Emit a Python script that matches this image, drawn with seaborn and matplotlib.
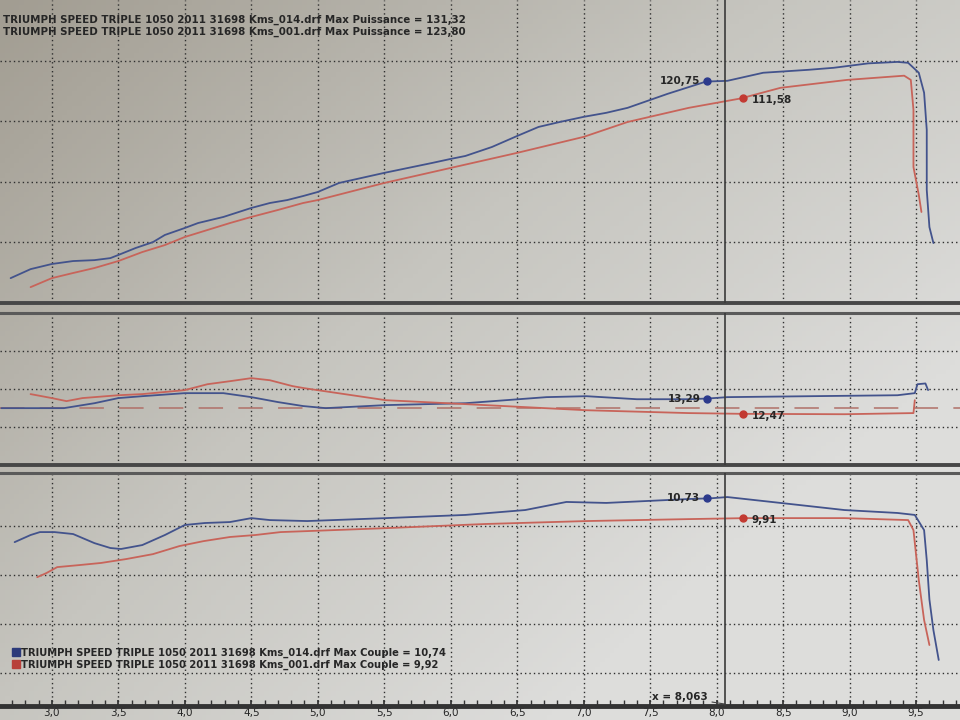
import numpy as np
import matplotlib
matplotlib.use("Agg")
import matplotlib.pyplot as plt
from matplotlib.colors import LinearSegmentedColormap
from matplotlib.lines import Line2D
from matplotlib.ticker import MultipleLocator, FuncFormatter
import pandas as pd
import seaborn as sns

# ## data (rpm x 1000) ================================================================
run_names = ['Kms_014', 'Kms_001']

# puissance
rpm_p_014 = [2.69, 2.84, 3.00, 3.16, 3.32, 3.44, 3.50, 3.63, 3.76, 3.85, 4.00, 4.10, 4.29,
             4.50, 4.64, 4.77, 4.89, 5.00, 5.16, 5.50, 5.86, 6.00, 6.11, 6.31, 6.50, 6.66,
             6.82, 7.00, 7.17, 7.33, 7.63, 7.92, 8.08, 8.35, 8.69, 8.88, 9.14, 9.36, 9.44,
             9.52, 9.56, 9.58, 9.58, 9.60, 9.63]
pw_014 = [13.6, 18.5, 21.3, 22.9, 23.4, 24.5, 26.2, 30.0, 33.2, 37.1, 40.9, 43.6, 46.9,
          51.8, 54.5, 56.1, 58.3, 60.5, 65.4, 70.9, 76.3, 78.5, 80.1, 85.0, 91.0, 95.9,
          98.6, 101.4, 103.6, 106.3, 113.9, 120.6, 121.0, 125.4, 127.0, 128.1, 130.5, 131.3, 130.8,
          125.4, 114.5, 94.3, 61.6, 41.4, 32.7]
rpm_p_001 = [2.84, 3.00, 3.16, 3.32, 3.50, 3.68, 3.85, 4.00, 4.17, 4.34, 4.50, 4.70, 4.89,
             5.00, 5.50, 6.00, 6.50, 7.00, 7.33, 7.79, 8.18, 8.48, 8.98, 9.41, 9.46, 9.48,
             9.48, 9.52, 9.54]
pw_001 = [8.7, 13.6, 16.4, 19.1, 22.9, 27.8, 31.6, 36.0, 39.8, 43.6, 46.9, 50.7, 54.5,
          56.1, 65.4, 73.6, 81.8, 90.5, 98.6, 106.3, 111.4, 117.2, 121.5, 123.8, 121.5, 105.2,
          74.1, 58.9, 49.6]

# richesse
rpm_a_014 = [2.62, 3.09, 3.32, 3.50, 3.68, 4.00, 4.29, 4.50, 4.70, 4.89, 5.06, 5.51, 6.11,
             6.72, 7.02, 7.40, 7.79, 7.94, 8.08, 8.71, 9.36, 9.49, 9.51, 9.57, 9.59]
afr_014 = [12.8, 12.8, 13.06, 13.33, 13.43, 13.59, 13.59, 13.38, 13.12, 12.91, 12.8, 12.96, 13.06,
           13.38, 13.43, 13.27, 13.27, 13.31, 13.38, 13.43, 13.48, 13.59, 14.06, 14.1, 13.75]
rpm_a_001 = [2.84, 3.00, 3.11, 3.23, 3.50, 3.68, 4.00, 4.17, 4.34, 4.50, 4.64, 4.81, 4.90,
             5.51, 6.26, 7.02, 7.79, 8.20, 8.96, 9.48, 9.49]
afr_001 = [13.54, 13.33, 13.17, 13.33, 13.48, 13.54, 13.75, 14.06, 14.22, 14.38, 14.27, 13.96, 13.85,
           13.22, 12.96, 12.69, 12.54, 12.50, 12.48, 12.54, 13.22]
afr_ref = 12.8

# couple
rpm_c_014 = [2.72, 2.84, 2.91, 3.02, 3.16, 3.32, 3.44, 3.52, 3.68, 3.85, 4.00, 4.15, 4.34,
             4.50, 4.64, 4.92, 5.51, 6.11, 6.56, 6.87, 7.17, 7.48, 7.79, 7.96, 8.08, 8.48,
             8.96, 9.36, 9.49, 9.56, 9.58, 9.60, 9.63, 9.67]
cpl_014 = [8.94, 9.23, 9.35, 9.35, 9.27, 8.90, 8.70, 8.66, 8.82, 9.23, 9.64, 9.72, 9.76,
           9.92, 9.84, 9.80, 9.92, 10.05, 10.25, 10.58, 10.54, 10.62, 10.70, 10.73, 10.78, 10.54,
           10.25, 10.13, 10.05, 9.43, 8.2, 6.6, 5.35, 4.13]
rpm_c_001 = [2.89, 2.96, 3.04, 3.20, 3.37, 3.56, 3.76, 3.96, 4.14, 4.34, 4.53, 4.72, 4.92,
             5.51, 6.26, 7.02, 7.79, 8.22, 8.96, 9.44, 9.48, 9.52, 9.56, 9.60]
cpl_001 = [7.51, 7.68, 7.92, 8.00, 8.09, 8.25, 8.45, 8.78, 8.98, 9.15, 9.23, 9.35, 9.39,
           9.51, 9.68, 9.80, 9.88, 9.92, 9.92, 9.84, 9.43, 7.39, 5.76, 4.74]

# cursor readout
cursor_rpm = 8.063
cursor_014 = [120.75, 13.29, 10.73]
cursor_001 = [111.58, 12.47, 9.91]
max_puissance = [131.32, 123.80]
max_couple = [10.74, 9.92]

xticks = np.arange(3.0, 10.0, 0.5)


def fr(v, n=2):
    return f"{v:.{n}f}".replace('.', ',')


def long_df(xa, ya, xb, yb):
    return pd.concat([pd.DataFrame({'rpm': xa, 'val': ya, 'run': run_names[0]}),
                      pd.DataFrame({'rpm': xb, 'val': yb, 'run': run_names[1]})],
                     ignore_index=True)


# ## style =============================================================================
sns.set_theme(style='white')
plt.rcParams['font.family'] = ['DejaVu Sans']
blue = '#43538c'
red = '#c8645a'
palette = {run_names[0]: blue, run_names[1]: red}
ink = '#262626'

fig = plt.figure(figsize=(9.6, 7.2), dpi=100)

# photo-like paper background
bg = fig.add_axes([0, 0, 1, 1], zorder=-10)
gx, gy = np.meshgrid(np.linspace(0, 1, 200), np.linspace(0, 1, 150))
paper = np.clip(0.55 * gx + 0.45 * gy + 0.2 * gx * gy + 0.12, 0, 1)
cmap = LinearSegmentedColormap.from_list('paper', ['#a29d92', '#c6c5bf', '#dddddb'])
bg.imshow(paper, cmap=cmap, aspect='auto', extent=(0, 1, 0, 1), origin='upper')
bg.axis('off')

ax_p = fig.add_axes([0, 0.579, 1, 0.421])
ax_a = fig.add_axes([0, 0.354, 1, 0.211])
ax_c = fig.add_axes([0, 0.0194, 1, 0.3236])

panels = [
    (ax_p, long_df(rpm_p_014, pw_014, rpm_p_001, pw_001), (0, 165), [33, 66, 99, 132]),
    (ax_a, long_df(rpm_a_014, afr_014, rpm_a_001, afr_001), (9.8, 17.8), [11.8, 13.8, 15.8]),
    (ax_c, long_df(rpm_c_014, cpl_014, rpm_c_001, cpl_001), (2.25, 11.76), [3.6, 5.6, 7.6, 9.6]),
]

for i, (ax, df, ylim, yt) in enumerate(panels):
    ax.set_facecolor('none')
    if ax is ax_a:
        ax.axhline(afr_ref, color='#b07068', lw=1.1, dashes=(16, 10), zorder=2)
    sns.lineplot(data=df, x='rpm', y='val', hue='run', palette=palette, sort=False,
                 estimator=None, lw=1.3, legend=False, ax=ax, zorder=3)
    ax.set_xlim(2.61, 9.83)
    ax.set_ylim(*ylim)
    ax.set_xticks(xticks)
    ax.set_yticks(yt)
    ax.grid(True, color='#2e2e2e', lw=1.0, linestyle=(0, (1, 2.2)), zorder=1)
    ax.set_xlabel('')
    ax.set_ylabel('')
    ax.tick_params(axis='y', left=False, labelleft=False)
    for s in ['left', 'right']:
        ax.spines[s].set_visible(False)
    ax.spines['top'].set_color('#5a5a5a')
    ax.spines['top'].set_linewidth(2.2)
    ax.spines['bottom'].set_color('#474747')
    ax.spines['bottom'].set_linewidth(2.8)

    ax.axvline(cursor_rpm, color='#3a3a3a', lw=1.2, zorder=4)
    ax.plot(7.93, cursor_014[i], 'o', color='#2c3a8c', ms=5, zorder=5)
    ax.plot(8.20, cursor_001[i], 'o', color='#c23a32', ms=5, zorder=5)
    ax.annotate(fr(cursor_014[i]), (7.93, cursor_014[i]), xytext=(-5, 0),
                textcoords='offset points', ha='right', va='center',
                fontsize=7.5, weight='bold', color=ink, zorder=6)
    ax.annotate(fr(cursor_001[i]), (8.20, cursor_001[i]), xytext=(6, -1),
                textcoords='offset points', ha='left', va='center',
                fontsize=7.5, weight='bold', color=ink, zorder=6)

ax_p.spines['top'].set_visible(False)
for ax in [ax_p, ax_a]:
    ax.tick_params(axis='x', bottom=False, labelbottom=False)

ax_c.xaxis.set_minor_locator(MultipleLocator(0.1))
ax_c.xaxis.set_major_formatter(FuncFormatter(lambda v, p: fr(v, 1)))
ax_c.tick_params(axis='x', which='both', direction='in', bottom=True, length=4,
                 color='#333333', labelsize=7.5, pad=1.5, labelcolor=ink)
ax_c.spines['bottom'].set_linewidth(3.5)
ax_c.spines['bottom'].set_color('#333333')

ax_c.annotate('x = ' + fr(cursor_rpm, 3), xy=(cursor_rpm, 2.33), xytext=(7.72, 2.62),
              ha='center', va='center', fontsize=7.5, weight='bold', color=ink,
              arrowprops=dict(arrowstyle='-', color='#444444', lw=0.8, shrinkA=1, shrinkB=0))

# legends ================================================================================
title = 'TRIUMPH SPEED TRIPLE 1050 2011 31698 '
fig.text(3 / 960, 1 - 20 / 720, f'{title}{run_names[0]}.drf Max Puissance = {fr(max_puissance[0])}',
         ha='left', va='center', fontsize=7.4, weight='bold', color=ink)
fig.text(3 / 960, 1 - 32 / 720, f'{title}{run_names[1]}.drf Max Puissance = {fr(max_puissance[1])}',
         ha='left', va='center', fontsize=7.4, weight='bold', color=ink)

handles = [Line2D([], [], marker='s', ls='', color=c, ms=6) for c in ['#2c3a7a', '#b8403a']]
labels = [f'{title}{run_names[k]}.drf Max Couple = {fr(max_couple[k])}' for k in range(2)]
leg = ax_c.legend(handles, labels, loc='upper left', bbox_to_anchor=(0.012, 0.25),
                  frameon=False, borderpad=0, borderaxespad=0, handletextpad=0.15,
                  handlelength=0.8, labelspacing=0.15, prop={'size': 7.2, 'weight': 'bold'})
for t in leg.get_texts():
    t.set_color(ink)

fig.savefig('out.png', dpi=100)
